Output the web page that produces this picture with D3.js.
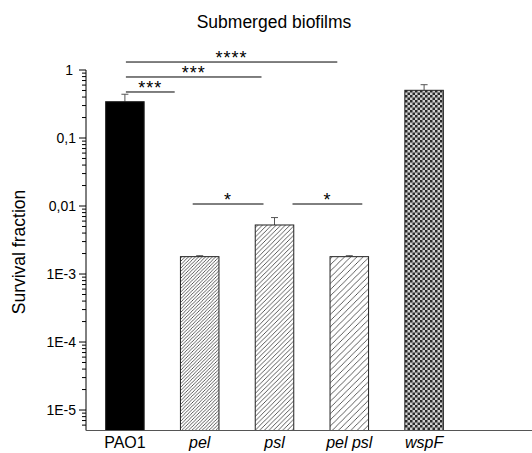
<!DOCTYPE html>
<html>
<head>
  <script src="https://d3js.org/d3.v7.min.js"></script>
  <style>
    body { margin: 0; font-family: Arial, "Liberation Sans", sans-serif; background: #fff; }
    text { font-family: Arial, "Liberation Sans", sans-serif; fill: #000; }
  </style>
</head>
<body>
  <svg width="532" height="453"></svg>
  <script>
    const width = 532, height = 453;

    // data
    const strains = ["PAO1", "pel", "psl", "pel psl", "wspF"];
    const survival = [0.342, 0.0018, 0.00526, 0.0018, 0.503];
    const errUp = [0.098, 0.00006, 0.0015, 0.00006, 0.105];
    const fills = ["solid", "hatchDense", "hatchMid", "hatchWide", "checker"];

    const yTicks = [1, 0.1, 0.01, 1e-3, 1e-4, 1e-5];
    const yTickLabels = ["1", "0,1", "0,01", "1E-3", "1E-4", "1E-5"];

    // significance brackets
    const sigFrom = ["PAO1", "PAO1", "PAO1", "pel", "psl"];
    const sigTo = ["pel", "psl", "pel psl", "psl", "pel psl"];
    const sigLabel = ["***", "***", "****", "*", "*"];
    const sigLevel = [0.475, 0.789, 1.31, 0.0107, 0.0107];
    // pixel offsets of line ends from band centres (layout only)
    const sigInset = [[1, -25], [1, -13], [1, -12], [-7, -11], [18, 13]];

    const svg = d3.select("svg");

    const x = d3.scaleBand()
      .domain(strains)
      .range([87.5, 461.5])
      .paddingInner(0.485)
      .paddingOuter(0.2425);

    const y = d3.scaleLog()
      .domain([5e-6, 1])
      .range([430.5, 70]);

    const defs = svg.append("defs");

    function hatch(id, gap) {
      const p = defs.append("pattern")
        .attr("id", id)
        .attr("patternUnits", "userSpaceOnUse")
        .attr("width", gap).attr("height", gap);
      p.append("rect").attr("width", gap).attr("height", gap).attr("fill", "#fff");
      p.append("path")
        .attr("d", `M0,${gap} L${gap},0 M${-gap / 2},${gap / 2} L${gap / 2},${-gap / 2} M${gap / 2},${gap * 1.5} L${gap * 1.5},${gap / 2}`)
        .attr("stroke", "#333")
        .attr("stroke-width", 0.8);
    }
    hatch("hatchDense", 3.4);
    hatch("hatchMid", 4.6);
    hatch("hatchWide", 6.2);

    const chk = defs.append("pattern")
      .attr("id", "checker")
      .attr("patternUnits", "userSpaceOnUse")
      .attr("width", 5).attr("height", 5);
    chk.append("rect").attr("width", 5).attr("height", 5).attr("fill", "#d0d0d0");
    chk.append("rect").attr("width", 2.5).attr("height", 2.5).attr("fill", "#2a2a2a");
    chk.append("rect").attr("x", 2.5).attr("y", 2.5).attr("width", 2.5).attr("height", 2.5).attr("fill", "#2a2a2a");

    // title
    svg.append("text")
      .attr("x", 274).attr("y", 28)
      .attr("text-anchor", "middle")
      .style("font-size", "17.5px")
      .text("Submerged biofilms");

    // y label
    svg.append("text")
      .attr("transform", "translate(25,252) rotate(-90)")
      .attr("text-anchor", "middle")
      .style("font-size", "17.5px")
      .text("Survival fraction");

    // error bars (upward only)
    const eb = svg.append("g").attr("stroke", "#555").attr("stroke-width", 1);
    strains.forEach((s, i) => {
      const cx = x(s) + x.bandwidth() / 2;
      eb.append("line")
        .attr("x1", cx).attr("x2", cx)
        .attr("y1", y(survival[i])).attr("y2", y(survival[i] + errUp[i]));
      eb.append("line")
        .attr("x1", cx - 3.5).attr("x2", cx + 3.5)
        .attr("y1", y(survival[i] + errUp[i])).attr("y2", y(survival[i] + errUp[i]));
    });

    // bars
    svg.selectAll(".bar")
      .data(strains)
      .enter().append("rect")
      .attr("class", "bar")
      .attr("x", d => x(d))
      .attr("y", (d, i) => y(survival[i]))
      .attr("width", x.bandwidth())
      .attr("height", (d, i) => y(5e-6) - y(survival[i]))
      .attr("fill", (d, i) => fills[i] === "solid" ? "#000" : `url(#${fills[i]})`)
      .attr("stroke", "#222")
      .attr("stroke-width", 1);

    // y axis with decade ticks and minor ticks
    const minor = [];
    for (let e = -6; e < 0; e++) {
      for (let m = 2; m <= 9; m++) {
        const v = m * Math.pow(10, e);
        if (v >= 5e-6 && v < 1) minor.push(v);
      }
    }
    const ya = svg.append("g").attr("transform", "translate(86,0)");
    ya.append("line").attr("y1", y(5e-6)).attr("y2", y(1)).attr("stroke", "#000");
    ya.selectAll(".minor").data(minor).enter().append("line")
      .attr("x1", -4).attr("x2", 0)
      .attr("y1", d => y(d)).attr("y2", d => y(d))
      .attr("stroke", "#000");
    ya.selectAll(".major").data(yTicks).enter().append("line")
      .attr("x1", -7).attr("x2", 0)
      .attr("y1", d => y(d)).attr("y2", d => y(d))
      .attr("stroke", "#000");
    ya.selectAll(".lab").data(yTicks).enter().append("text")
      .attr("x", (d, i) => i === 0 ? -13 : -10)
      .attr("y", d => y(d))
      .attr("dy", "0.35em")
      .attr("text-anchor", "end")
      .style("font-size", "14px")
      .text((d, i) => yTickLabels[i]);

    // x axis
    svg.append("line")
      .attr("x1", 86).attr("x2", width)
      .attr("y1", y(5e-6)).attr("y2", y(5e-6))
      .attr("stroke", "#555").attr("stroke-width", 1.2);

    svg.selectAll(".xlab")
      .data(strains)
      .enter().append("text")
      .attr("x", d => x(d) + x.bandwidth() / 2)
      .attr("y", 448)
      .attr("text-anchor", "middle")
      .style("font-size", "16px")
      .style("font-style", d => d === "PAO1" ? "normal" : "italic")
      .text(d => d);

    // significance lines
    const sg = svg.append("g");
    sigFrom.forEach((f, i) => {
      const x1 = x(f) + x.bandwidth() / 2 + sigInset[i][0];
      const x2 = x(sigTo[i]) + x.bandwidth() / 2 + sigInset[i][1];
      const ly = y(sigLevel[i]);
      sg.append("line")
        .attr("x1", x1).attr("x2", x2)
        .attr("y1", ly).attr("y2", ly)
        .attr("stroke", "#000").attr("stroke-width", 1);
      sg.append("text")
        .attr("x", (x1 + x2) / 2)
        .attr("y", ly + 2)
        .attr("text-anchor", "middle")
        .style("font-size", "18px")
        .style("letter-spacing", "1px")
        .text(sigLabel[i]);
    });
  </script>
</body>
</html>
